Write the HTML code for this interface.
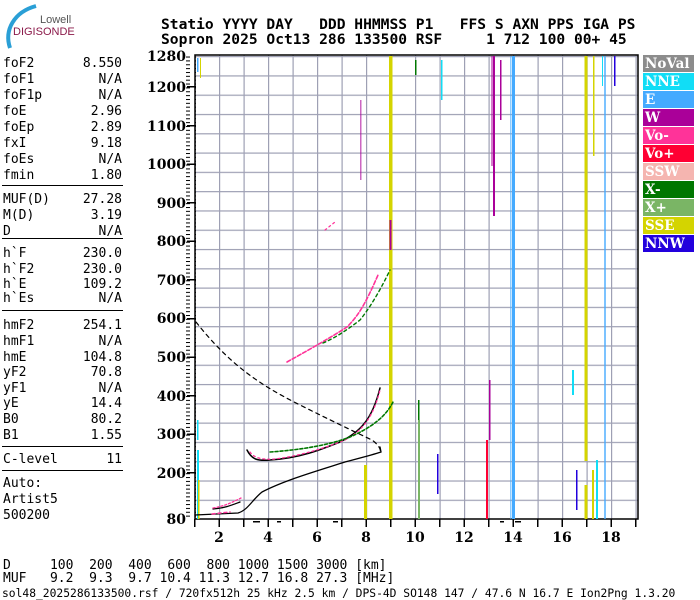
<!DOCTYPE html>
<html><head><meta charset="utf-8"><style>
body{margin:0;background:#fff;width:700px;height:600px;overflow:hidden}
svg{display:block}
.m{font-family:"DejaVu Sans Mono","Liberation Mono",monospace;font-size:13px;fill:#000}
.h{font-family:"DejaVu Sans Mono","Liberation Mono",monospace;font-size:14.6px;font-weight:bold;fill:#000}
.ax{font-family:"DejaVu Serif","Liberation Serif",serif;font-size:14px;font-weight:bold;fill:#000}
.lg{font-family:"DejaVu Serif","Liberation Serif",serif;font-size:13.5px;font-weight:bold;fill:#fff}
</style></head><body>
<svg width="700" height="600" xmlns="http://www.w3.org/2000/svg">
<defs>
<pattern id="gx" patternUnits="userSpaceOnUse" x="194.5" y="0" width="24.5" height="600"><rect x="0" y="0" width="1.2" height="600" fill="#9ea0b4"/></pattern>
<pattern id="gy" patternUnits="userSpaceOnUse" x="0" y="519" width="700" height="19.29"><rect x="0" y="0" width="700" height="1.2" fill="#9ea0b4"/></pattern>
<pattern id="tk" patternUnits="userSpaceOnUse" x="0" y="519.5" width="10" height="3.858"><rect x="5" y="0" width="5" height="1" fill="#000"/></pattern>
</defs>
<!-- logo -->
<path d="M10,48 C4,30 14,12 36,6" stroke="#2a9fd6" stroke-width="4" fill="none"/>
<text x="40" y="23" style="font-family:'Liberation Sans',sans-serif;font-size:11px;fill:#555">Lowell</text>
<text x="13" y="35" style="font-family:'Liberation Sans',sans-serif;font-size:11px;fill:#8b1a4a">DIGISONDE</text>
<!-- header -->
<text class="h" x="161" y="29" xml:space="preserve">Statio YYYY DAY   DDD HHMMSS P1   FFS S AXN PPS IGA PS</text>
<text class="h" x="161" y="44" xml:space="preserve">Sopron 2025 Oct13 286 133500 RSF     1 712 100 00+ 45</text>
<!-- left panel -->
<g class="m">
<text x="3" y="67">foF2</text><text x="122" y="67" text-anchor="end">8.550</text>
<text x="3" y="83">foF1</text><text x="122" y="83" text-anchor="end">N/A</text>
<text x="3" y="99">foF1p</text><text x="122" y="99" text-anchor="end">N/A</text>
<text x="3" y="115">foE</text><text x="122" y="115" text-anchor="end">2.96</text>
<text x="3" y="131">foEp</text><text x="122" y="131" text-anchor="end">2.89</text>
<text x="3" y="147">fxI</text><text x="122" y="147" text-anchor="end">9.18</text>
<text x="3" y="163">foEs</text><text x="122" y="163" text-anchor="end">N/A</text>
<text x="3" y="179">fmin</text><text x="122" y="179" text-anchor="end">1.80</text>
<text x="3" y="203">MUF(D)</text><text x="122" y="203" text-anchor="end">27.28</text>
<text x="3" y="219">M(D)</text><text x="122" y="219" text-anchor="end">3.19</text>
<text x="3" y="235">D</text><text x="122" y="235" text-anchor="end">N/A</text>
<text x="3" y="257">h`F</text><text x="122" y="257" text-anchor="end">230.0</text>
<text x="3" y="273">h`F2</text><text x="122" y="273" text-anchor="end">230.0</text>
<text x="3" y="288">h`E</text><text x="122" y="288" text-anchor="end">109.2</text>
<text x="3" y="302">h`Es</text><text x="122" y="302" text-anchor="end">N/A</text>
<text x="3" y="329">hmF2</text><text x="122" y="329" text-anchor="end">254.1</text>
<text x="3" y="345">hmF1</text><text x="122" y="345" text-anchor="end">N/A</text>
<text x="3" y="361">hmE</text><text x="122" y="361" text-anchor="end">104.8</text>
<text x="3" y="376">yF2</text><text x="122" y="376" text-anchor="end">70.8</text>
<text x="3" y="392">yF1</text><text x="122" y="392" text-anchor="end">N/A</text>
<text x="3" y="407">yE</text><text x="122" y="407" text-anchor="end">14.4</text>
<text x="3" y="423">B0</text><text x="122" y="423" text-anchor="end">80.2</text>
<text x="3" y="439">B1</text><text x="122" y="439" text-anchor="end">1.55</text>
<text x="3" y="463">C-level</text><text x="122" y="463" text-anchor="end">11</text>
<text x="3" y="487">Auto:</text>
<text x="3" y="503">Artist5</text>
<text x="3" y="519">500200</text>
</g>
<g fill="#000">
<rect x="2" y="185" width="121" height="1"/>
<rect x="2" y="238" width="121" height="1"/>
<rect x="2" y="310" width="121" height="1"/>
<rect x="2" y="446" width="121" height="1"/>
<rect x="2" y="470" width="121" height="1"/>
</g>
<!-- plot grid -->
<rect x="195" y="55" width="443" height="464" fill="url(#gx)"/>
<rect x="195" y="55" width="443" height="464" fill="url(#gy)"/>
<rect x="195" y="55" width="443" height="464" fill="none" stroke="#000" stroke-width="1.5"/>
<!-- left ticks -->
<rect x="186" y="56" width="10" height="463" fill="url(#tk)"/>
<g fill="#000">
<rect x="187" y="86" width="9" height="1.5"/><rect x="187" y="125" width="9" height="1.5"/><rect x="187" y="163.5" width="9" height="1.5"/><rect x="187" y="202" width="9" height="1.5"/><rect x="187" y="240.5" width="9" height="1.5"/><rect x="187" y="279" width="9" height="1.5"/><rect x="187" y="318" width="9" height="1.5"/><rect x="187" y="356.5" width="9" height="1.5"/><rect x="187" y="395" width="9" height="1.5"/><rect x="187" y="433.5" width="9" height="1.5"/><rect x="187" y="472" width="9" height="1.5"/>
</g>
<g class="ax" text-anchor="end">
<text x="186" y="61">1280</text><text x="186" y="92">1200</text><text x="186" y="131">1100</text><text x="186" y="169">1000</text><text x="186" y="208">900</text><text x="186" y="246">800</text><text x="186" y="285">700</text><text x="186" y="323">600</text><text x="186" y="362">500</text><text x="186" y="401">400</text><text x="186" y="439">300</text><text x="186" y="478">200</text><text x="186" y="524">80</text>
</g>
<!-- bottom ticks -->
<g fill="#000">
<rect x="194" y="519" width="1.5" height="8"/><rect x="218.5" y="519" width="1.5" height="8"/><rect x="243" y="519" width="1.5" height="8"/><rect x="267.5" y="519" width="1.5" height="8"/><rect x="292" y="519" width="1.5" height="8"/><rect x="316.5" y="519" width="1.5" height="8"/><rect x="341" y="519" width="1.5" height="8"/><rect x="365.5" y="519" width="1.5" height="8"/><rect x="390" y="519" width="1.5" height="8"/><rect x="414.5" y="519" width="1.5" height="8"/><rect x="439" y="519" width="1.5" height="8"/><rect x="463.5" y="519" width="1.5" height="8"/><rect x="488" y="519" width="1.5" height="8"/><rect x="512.5" y="519" width="1.5" height="8"/><rect x="537" y="519" width="1.5" height="8"/><rect x="561.5" y="519" width="1.5" height="8"/><rect x="586" y="519" width="1.5" height="8"/><rect x="610.5" y="519" width="1.5" height="8"/><rect x="635" y="519" width="1.5" height="8"/>
<rect x="253" y="521" width="7" height="1.5"/><rect x="277" y="521" width="4" height="1.5"/><rect x="333" y="521" width="5" height="1.5"/><rect x="500" y="521" width="4" height="1.5"/><rect x="515" y="521" width="6" height="1.5"/>
</g>
<g class="ax" text-anchor="middle">
<text x="219" y="542">2</text><text x="268" y="542">4</text><text x="317" y="542">6</text><text x="366" y="542">8</text><text x="415" y="542">10</text><text x="464" y="542">12</text><text x="513" y="542">14</text><text x="562" y="542">16</text><text x="611" y="542">18</text>
</g>
<!-- vertical bands -->
<rect x="389" y="56" width="3.5" height="463" fill="#d4d400"/>
<rect x="389.5" y="220" width="2" height="30" fill="#aa0099"/>
<rect x="512" y="56" width="3" height="463" fill="#44aaff"/>
<rect x="510" y="56" width="1.5" height="463" fill="#44aaff" opacity="0.6"/>
<rect x="493" y="56" width="2" height="160" fill="#aa0099"/>
<rect x="491.5" y="56" width="1" height="110" fill="#aa0099"/>
<rect x="584.5" y="56" width="3" height="405" fill="#d4d400"/>
<rect x="584.5" y="485" width="3" height="34" fill="#d4d400"/>
<rect x="593" y="56" width="1.5" height="100" fill="#d4d400"/>
<rect x="604" y="56" width="2" height="463" fill="#44aaff" opacity="0.7"/>
<rect x="602" y="56" width="1" height="30" fill="#11ddf6"/>
<rect x="364" y="465" width="3" height="54" fill="#d4d400"/>
<rect x="418" y="420" width="2" height="99" fill="#7ab565"/>
<rect x="418" y="400" width="1.5" height="20" fill="#007700"/>
<rect x="437" y="454" width="1.5" height="40" fill="#2200dd"/>
<rect x="486" y="440" width="2" height="79" fill="#ff0033"/>
<rect x="489" y="380" width="1.5" height="60" fill="#aa0099"/>
<rect x="576" y="470" width="1.5" height="40" fill="#2200dd"/>
<rect x="592" y="470" width="2" height="49" fill="#d4d400"/>
<rect x="596" y="460" width="2" height="59" fill="#11ddf6"/>
<rect x="572" y="370" width="2" height="25" fill="#11ddf6"/>
<rect x="197" y="450" width="2" height="69" fill="#11ddf6"/>
<rect x="198" y="480" width="1.5" height="39" fill="#d4d400"/>
<rect x="197" y="58" width="1.5" height="14" fill="#44aaff"/>
<rect x="200" y="58" width="1" height="20" fill="#d4d400"/>
<rect x="197" y="420" width="1.5" height="20" fill="#11ddf6"/>
<rect x="441" y="60" width="1.5" height="40" fill="#11ddf6"/>
<rect x="415" y="60" width="1.5" height="15" fill="#007700"/>
<rect x="500" y="60" width="1.5" height="60" fill="#aa0099"/>
<rect x="614" y="56" width="1.5" height="30" fill="#2200dd"/>
<rect x="360" y="100" width="1.5" height="80" fill="#aa0099" opacity="0.6"/>
<!-- traces -->
<g fill="none" stroke-linecap="round">
<path d="M196,322 C230,365 260,385 300,405 C330,420 355,432 372,440 C380,446 382,451 379,454" stroke="#000" stroke-width="1.2" stroke-dasharray="4,4"/>
<path d="M195,515 L238,513 C248,510 252,500 262,492 C285,480 320,470 345,462 C360,458 372,455 381,452 L380,447" stroke="#000" stroke-width="1.3"/>
<path d="M213,509 C225,508 232,505 240,502" stroke="#000" stroke-width="1.3"/>
<path d="M247,450 C252,460 258,461 270,460 C300,458 320,450 340,442 C360,432 372,420 380,388" stroke="#000" stroke-width="1.5"/>
<path d="M250,452 C254,458 262,460 275,459 C300,456 325,448 345,440 C362,431 373,418 380,390" stroke="#ff3399" stroke-width="1.3" stroke-dasharray="2,3"/>
<path d="M270,452 C300,450 330,445 350,437 C370,428 385,418 393,402" stroke="#007700" stroke-width="1.6" stroke-dasharray="3,2"/>
<path d="M287,362 C305,352 330,338 347,327 C358,316 365,305 378,275" stroke="#ff3399" stroke-width="1.6" stroke-dasharray="4,2"/>
<path d="M323,343 C335,338 347,330 360,320 C368,310 378,295 390,270" stroke="#007700" stroke-width="1.4" stroke-dasharray="3,3"/>
<path d="M213,508 C225,506 233,502 241,498" stroke="#ff3399" stroke-width="1.3" stroke-dasharray="2,2"/>
<path d="M212,514 L230,512" stroke="#ff3399" stroke-width="1.5" stroke-dasharray="3,3"/>
<path d="M325,230 L335,222" stroke="#ff3399" stroke-width="1.2" stroke-dasharray="2,3"/>
</g>
<!-- legend -->
<g>
<rect x="643" y="55" width="51" height="17" fill="#8c8c8c"/><text class="lg" x="645" y="68">NoVal</text>
<rect x="643" y="73" width="51" height="17" fill="#11ddf6"/><text class="lg" x="645" y="86">NNE</text>
<rect x="643" y="91" width="51" height="17" fill="#44aaff"/><text class="lg" x="645" y="104">E</text>
<rect x="643" y="109" width="51" height="17" fill="#aa0099"/><text class="lg" x="645" y="122">W</text>
<rect x="643" y="127" width="51" height="17" fill="#ff3399"/><text class="lg" x="645" y="140">Vo-</text>
<rect x="643" y="145" width="51" height="17" fill="#ff0033"/><text class="lg" x="645" y="158">Vo+</text>
<rect x="643" y="163" width="51" height="17" fill="#f5b5b0"/><text class="lg" x="645" y="176">SSW</text>
<rect x="643" y="181" width="51" height="17" fill="#007700"/><text class="lg" x="645" y="194">X-</text>
<rect x="643" y="199" width="51" height="17" fill="#7ab565"/><text class="lg" x="645" y="212">X+</text>
<rect x="643" y="217" width="51" height="17" fill="#d4d400"/><text class="lg" x="645" y="230">SSE</text>
<rect x="643" y="235" width="51" height="17" fill="#2200dd"/><text class="lg" x="645" y="248">NNW</text>
</g>
<!-- bottom text -->
<g class="m">
<text x="3" y="569" xml:space="preserve">D     100  200  400  600  800 1000 1500 3000 [km]</text>
<text x="3" y="582" xml:space="preserve">MUF   9.2  9.3  9.7 10.4 11.3 12.7 16.8 27.3 [MHz]</text>
<text x="2" y="597" style="font-size:11.3px">sol48_2025286133500.rsf / 720fx512h 25 kHz 2.5 km / DPS-4D SO148 147 / 47.6 N 16.7 E  Ion2Png 1.3.20</text>
</g>
</svg>
</body></html>
